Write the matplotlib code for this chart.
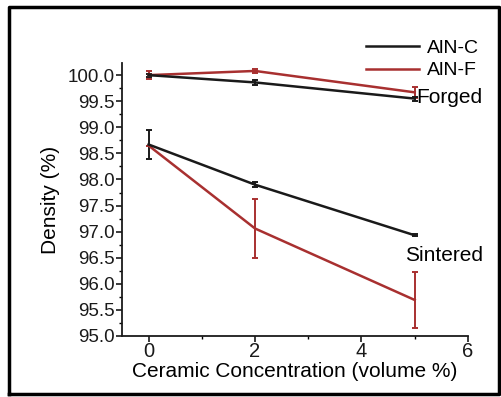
import matplotlib
matplotlib.use("Agg")
import matplotlib.pyplot as plt
from matplotlib.lines import Line2D
from matplotlib.ticker import MultipleLocator

plt.rcParams['font.family'] = ['Liberation Sans', 'DejaVu Sans']

conc = [0, 2, 5]
alnc_forged = [100.0, 99.86, 99.55]
alnc_forged_err = [0.03, 0.05, 0.04]
alnf_forged = [100.0, 100.08, 99.67]
alnf_forged_err = [0.08, 0.03, 0.10]
alnc_sintered = [98.67, 97.90, 96.93]
alnc_sintered_err = [0.27, 0.05, 0.02]
alnf_sintered = [98.65, 97.06, 95.69]
alnf_sintered_err = [0.0, 0.56, 0.53]

BLACK = '#1a1a1a'
RED = '#a83030'

fig = plt.figure(figsize=(5.01, 3.97), dpi=100)
ax = fig.add_axes([0.2435, 0.1537, 0.934 - 0.2435, 0.841 - 0.1537])

ekw = dict(capsize=2.5, elinewidth=1.4, capthick=1.4, lw=1.8)
ax.errorbar(conc, alnf_forged, yerr=alnf_forged_err, color=RED, **ekw)
ax.errorbar(conc, alnc_forged, yerr=alnc_forged_err, color=BLACK, **ekw)
ax.errorbar(conc, alnf_sintered, yerr=alnf_sintered_err, color=RED, **ekw)
ax.errorbar(conc, alnc_sintered, yerr=alnc_sintered_err, color=BLACK, **ekw)

ax.set_xlim(-0.5, 6)
ax.set_ylim(95, 100.23)
ax.xaxis.set_major_locator(MultipleLocator(2))
ax.xaxis.set_minor_locator(MultipleLocator(1))
ax.yaxis.set_minor_locator(MultipleLocator(0.25))
ax.set_yticks([95 + 0.5 * i for i in range(11)])
ax.set_yticklabels(['%.1f' % (95 + 0.5 * i) for i in range(11)])

for s in ['top', 'right']:
    ax.spines[s].set_visible(False)
for s in ['left', 'bottom']:
    ax.spines[s].set_linewidth(1.3)
    ax.spines[s].set_color(BLACK)

ax.tick_params(axis='both', which='major', direction='out', length=4, width=1.2,
               labelsize=13.5, pad=1, colors=BLACK)
ax.tick_params(axis='both', which='minor', direction='out', length=2.5, width=1.0)
ax.tick_params(axis='x', pad=0, labelsize=14.5)

ax.set_xlabel('Ceramic Concentration (volume %)', fontsize=15, labelpad=1)
ax.set_ylabel('Density (%)', fontsize=15, labelpad=6)

ax.text(5.02, 99.58, 'Forged', fontsize=15, va='center', ha='left')
ax.text(4.82, 96.55, 'Sintered', fontsize=15, va='center', ha='left')

handles = [Line2D([], [], color=BLACK, lw=1.8), Line2D([], [], color=RED, lw=1.8)]
fig.legend(handles, ['AlN-C', 'AlN-F'], loc='upper right',
           bbox_to_anchor=(0.99, 0.945), frameon=False, fontsize=14,
           handlelength=2.7, handletextpad=0.4, labelspacing=0.25)

# outer frame
fx = [9 / 501, 499 / 501]
fy = [1 - 394 / 397, 1 - 7 / 397]
fig.add_artist(Line2D([fx[0], fx[0], fx[1], fx[1], fx[0]],
                      [fy[0], fy[1], fy[1], fy[0], fy[0]],
                      transform=fig.transFigure, color='black', lw=2.5))

fig.savefig('out.png', dpi=100)
